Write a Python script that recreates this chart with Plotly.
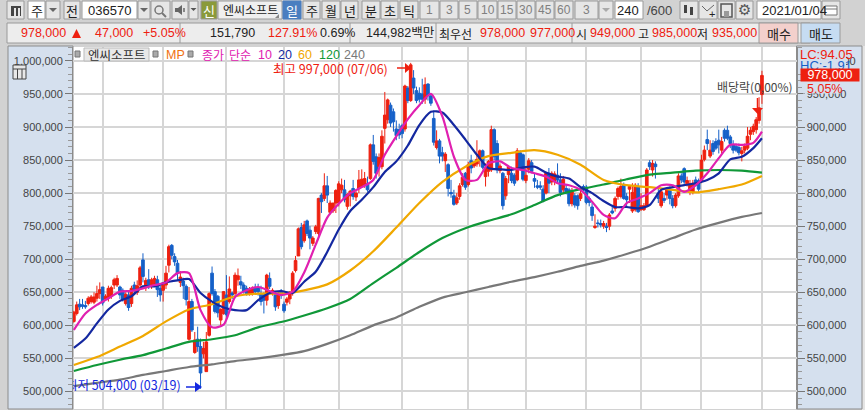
import plotly.graph_objects as go

W, H = 865, 410

# Daily candles for 036570, in thousands of won
opens_k = [
    606,618,632,631,630,633,636,635,641,648, 658,640,641,644,661,661,658,653,633,646,
    633,661,650,661,699,657,669,660,662,669, 656,653,661,691,721,704,694,665,667,659,
    579,636,559,579,568,557,530,585,679,651, 644,608,618,646,636,649,648,669,666,661,
    656,648,648,657,658,648,648,638,671,649, 648,630,652,632,635,640,651,683,705,748,
    728,758,744,724,742,739,797,792,811,771, 773,785,785,805,805,780,796,807,794,807,
    810,812,814,822,873,855,840,840,898,911, 933,923,897,896,902,897,959,940,974,955,
    951,950,942,965,947,913,869,879,861,849, 843,801,796,785,795,813,830,813,849,841,
    844,851,864,825,833,835,896,875,834,830, 796,828,830,827,820,861,858,819,836,846,
    822,811,811,806,800,830,817,817,827,820, 805,807,805,784,796,796,792,810,809,792,
    779,748,755,754,750,750,750,773,777,795, 795,813,795,806,773,775,810,775,775,781,
    846,835,844,800,781,792,797,806,792,781, 796,826,837,814,801,801,820,819,818,851,
    881,856,875,878,880,865,895,895,885,873, 871,869,860,865,868,889,893,896,910,949,
]
highs_k = [
    622,636,640,640,637,644,646,650,660,665, 658,647,660,660,672,676,660,656,650,652,
    660,666,668,690,709,672,685,672,675,675, 660,662,690,722,723,709,699,682,672,662,
    658,640,590,598,580,575,590,650,689,655, 646,626,652,676,674,651,680,686,675,665,
    660,658,659,663,663,660,650,678,680,656, 651,652,655,636,643,652,682,705,748,755,
    758,760,750,735,752,793,800,830,826,789, 785,806,818,822,820,800,805,820,803,835,
    836,832,825,875,888,860,860,895,953,943, 937,928,910,905,905,964,962,997,986,961,
    960,973,975,966,950,925,895,882,870,862, 845,820,805,800,815,830,832,847,858,848,
    880,866,866,845,850,902,898,880,845,832, 826,842,840,830,868,865,860,840,853,850,
    830,820,818,812,832,838,833,833,845,830, 826,812,808,808,800,798,808,813,812,795,
    785,768,760,760,758,755,770,780,795,810, 822,816,800,812,815,815,815,800,785,838,
    850,850,848,808,805,800,808,810,797,800, 830,830,839,825,820,820,825,822,858,872,
    896,880,880,883,896,885,898,902,888,880, 875,875,870,875,900,900,905,915,945,985,
]
lows_k = [
    604,615,623,625,625,630,633,632,636,640, 630,637,636,640,655,658,640,636,630,622,
    628,648,646,655,665,652,655,655,658,643, 636,636,655,680,700,690,668,658,640,630,
    577,590,557,560,504,550,530,583,645,618, 612,600,616,610,633,640,645,660,655,648,
    645,645,645,646,645,630,618,630,655,645, 622,625,640,619,630,632,645,680,712,715,
    725,735,715,720,738,735,770,788,785,768, 770,770,780,800,786,775,780,790,788,800,
    808,808,802,820,843,822,825,836,875,905, 900,893,880,882,883,893,936,938,950,936,
    937,935,935,940,932,872,866,845,848,832, 795,793,781,782,790,810,805,810,830,838,
    840,840,836,810,825,832,850,830,830,775, 790,815,815,811,818,835,818,815,830,830,
    808,806,805,786,798,800,812,812,815,795, 800,798,780,780,778,775,788,803,783,780,
    758,746,748,748,746,741,744,768,772,790, 792,790,778,785,770,772,770,773,773,779,
    835,825,822,785,778,785,790,783,777,778, 793,815,814,810,797,798,810,802,815,848,
    865,853,858,865,860,860,878,880,868,860, 862,857,848,860,865,880,888,890,905,935,
]
closes_k = [
    620,631,628,629,628,641,643,643,648,654, 634,644,656,657,669,671,646,639,647,627,
    656,654,660,687,674,668,660,669,671,654, 646,661,679,719,706,696,679,673,660,639,
    636,593,578,568,528,565,575,648,648,621, 619,624,651,616,655,646,676,675,661,651,
    648,655,656,651,651,636,638,676,659,653, 628,648,645,622,640,648,679,698,746,719,
    752,739,732,732,749,792,787,811,797,785, 785,804,814,812,790,798,803,795,800,820,
    821,822,805,873,848,830,854,886,918,941, 906,908,887,888,890,962,940,994,959,940,
    942,942,964,948,936,877,879,856,856,859, 807,799,783,793,811,824,809,843,838,845,
    851,864,839,838,848,896,855,835,841,781, 822,840,819,815,864,838,821,827,849,833,
    818,809,809,788,830,815,830,829,820,801, 821,802,784,802,782,781,799,806,786,786,
    766,750,754,752,754,748,767,770,792,807, 810,792,790,810,801,812,772,781,781,835,
    840,845,840,792,802,789,806,792,781,797, 826,820,817,819,814,815,812,806,850,865,
    875,865,863,868,873,878,883,883,875,865, 865,861,864,871,886,895,901,911,929,978,
]

# Moving averages, sampled every 4 bars (short) and every 8 bars (long)
short_bars = list(range(0, 240, 4)) + [239]
ma10_k = [593,618,631,641,651,652,656,661,665,679, 679,623,597,601,643,653,658,652,646,651,
          680,722,763,784,800,809,820,858,886,912, 933,950,916,855,820,820,845,848,838,835,
          830,825,815,812,805,787,767,762,785,792, 800,812,812,802,812,830,853,873,873,876, 893]
ma20_k = [566,580,603,624,637,644,659,659,665,668, 670,649,636,627,623,623,638,649,652,649,
          666,681,711,745,773,790,809,832,848,872, 903,923,922,903,881,858,838,836,835,839,
          840,831,825,822,809,800,788,779,779,777, 782,805,809,812,815,820,830,851,855,868, 883]

long_bars = list(range(0, 240, 8)) + [239]
ma60_k = [540,552,568,584,606,624,632,644,648,648, 653,662,683,712,748,785,817,840,856,861,
          865,858,843,820,812,809,805,801,806,813, 826]
ma120_k = [531,540,548,555,565,575,579,585,597,605, 615,626,640,664,687,711,732,747,758,768,
           782,797,806,813,821,828,831,834,835,834, 831]
ma240_k = [508,513,518,525,531,537,541,546,550,555, 561,572,585,600,612,628,642,650,658,666,
           673,681,690,698,708,719,732,745,755,764, 770]

# Month-start bars carrying the vertical grid lines
month_bars = [10, 31, 53, 73, 92, 114, 137, 157, 178, 197, 218, 239]

bars = list(range(len(closes_k)))
won = lambda seq: [v * 1000 for v in seq]

RED, BLUE = "#EE2010", "#1560C8"
LOW_BLUE = "#1428E0"
FONT = "Liberation Sans, Noto Sans CJK KR, sans-serif"
KR = "Noto Sans CJK KR, sans-serif"
PANEL = "#D5E0EE"
CHROME = "#D2D2D2"

px = lambda x: x / W
py = lambda y: 1 - y / H

fig = go.Figure()

fig.add_trace(go.Candlestick(
    x=bars, open=won(opens_k), high=won(highs_k), low=won(lows_k), close=won(closes_k),
    increasing=dict(line=dict(color=RED, width=1), fillcolor=RED),
    decreasing=dict(line=dict(color=BLUE, width=1), fillcolor=BLUE),
    whiskerwidth=0, hoverinfo="skip", showlegend=False,
))
for xs, ys, color in [
    (long_bars, ma240_k, "#787878"),
    (long_bars, ma120_k, "#109838"),
    (long_bars, ma60_k, "#F0A800"),
    (short_bars, ma20_k, "#1428A0"),
    (short_bars, ma10_k, "#E020B0"),
]:
    fig.add_trace(go.Scatter(x=xs, y=won(ys), mode="lines",
                             line=dict(color=color, width=2.2, shape="spline", smoothing=0.7),
                             hoverinfo="skip", showlegend=False))

# The low callout is a text mark so that the plot area clips its left end
fig.add_trace(go.Scatter(x=[37.1], y=[507000], mode="text", cliponaxis=True,
                         text=[f"최저 {min(lows_k) * 1000:,} (03/19)"], textposition="middle left",
                         textfont=dict(family=KR, size=12.5, color=LOW_BLUE),
                         hoverinfo="skip", showlegend=False))

# Keeps the right-hand price axis on the page
fig.add_trace(go.Scatter(x=[bars[-1]], y=[closes_k[-1] * 1000], yaxis="y2", mode="markers",
                         marker=dict(opacity=0, size=1), hoverinfo="skip", showlegend=False))

shapes, notes = [], []


def rect(x0, y0, x1, y1, fill="#E6E6E6", line="#9A9A9A", lw=1, layer="below"):
    shapes.append(dict(type="rect", xref="paper", yref="paper", x0=px(x0), x1=px(x1),
                       y0=py(y1), y1=py(y0), fillcolor=fill, layer=layer,
                       line=dict(color=line, width=lw if line else 0)))


def poly(points, fill, line=None, layer="above"):
    path = "M" + " L".join(f"{px(a):.5f},{py(b):.5f}" for a, b in points) + " Z"
    shapes.append(dict(type="path", xref="paper", yref="paper", path=path, fillcolor=fill,
                       layer=layer, line=dict(color=line or fill, width=1 if line else 0)))


def seg(x0, y0, x1, y1, color, lw=1, layer="above"):
    shapes.append(dict(type="line", xref="paper", yref="paper", x0=px(x0), x1=px(x1),
                       y0=py(y0), y1=py(y1), layer=layer, line=dict(color=color, width=lw)))


def txt(x, y, s, color="#222222", size=12, anchor="left", font=KR):
    notes.append(dict(xref="paper", yref="paper", x=px(x), y=py(y), text=s, showarrow=False,
                      xanchor=anchor, yanchor="middle", align=anchor,
                      font=dict(family=font, size=size, color=color)))


# Window chrome around the chart
rect(0, 0, W, 46, fill=CHROME, line=None)
rect(0, 46, 8, H, fill=CHROME, line=None)
rect(862, 46, W, H, fill="#E4E4E4", line=None)
rect(8, 46, 73, 409, fill=PANEL, line="#8C8C8C")
rect(796.5, 46, 862, 409, fill=PANEL, line="#8C8C8C")

# First toolbar row
rect(7, 1, 24, 19)
rect(11, 6, 21, 16, fill="#444444", line=None)
rect(14, 8, 16, 16, fill="#E6E6E6", line=None)
rect(18, 8, 20, 16, fill="#E6E6E6", line=None)
rect(28, 1, 45, 19, fill="white")
txt(36.5, 10, "주", size=13, anchor="center")
rect(46, 1, 60, 19)
poly([(49, 8), (57, 8), (53, 12)], "#666666")
rect(64, 1, 80, 19)
txt(72, 10, "전", size=13, anchor="center")
rect(82, 1, 137, 19, fill="white")
txt(86, 10, "036570", size=13, font=FONT)
rect(138, 1, 150, 19)
poly([(140, 8), (148, 8), (144, 12)], "#666666")
rect(151, 1, 170, 19)
shapes.append(dict(type="circle", xref="paper", yref="paper", x0=px(155), x1=px(163),
                   y0=py(14), y1=py(6), layer="above", line=dict(color="#777777", width=1.5)))
seg(162, 13, 166, 17, "#777777", 2)
rect(172, 1, 188, 19)
poly([(175, 8), (178, 8), (182, 5), (182, 15), (178, 12), (175, 12)], "#666666")
seg(184, 8, 184, 12, "#666666", 1.5)
rect(189, 1, 198, 19)
poly([(190.5, 8), (196.5, 8), (193.5, 11)], "#555555")
rect(201, 1, 217, 19, fill="#8A9A3A", line="#9A9A9A")
txt(209, 10, "신", color="white", size=13, anchor="center")
rect(218, 1, 282, 19, fill="#EFEFEF")
txt(221, 9.5, "엔씨소프트", size=12)
poly([(279, 18), (279, 14), (275, 18)], "#888888")
rect(283, 1, 301, 19, fill="#4A7EC0", line="#4A7EC0")
txt(292, 10, "일", color="white", size=13, anchor="center")
for x0, x1, label in [(303, 320, "주"), (322, 340, "월"), (341, 358, "년"),
                      (362, 380, "분"), (381, 398, "초"), (400, 418, "틱")]:
    rect(x0, 1, x1, 19)
    txt((x0 + x1) / 2, 10, label, size=13, anchor="center")
for x0, x1, label in [(420, 439, "1"), (440, 458, "3"), (459, 477, "5"), (478, 497, "10"),
                      (498, 516, "15"), (517, 535, "30"), (536, 554, "45"), (555, 573, "60")]:
    rect(x0, 1, x1, 19)
    txt((x0 + x1) / 2, 10, label, color="#808080", size=12, anchor="center", font=FONT)
rect(575, 1, 598, 19)
txt(586, 10, "3", color="#808080", size=12, anchor="center", font=FONT)
rect(599, 1, 613, 19)
poly([(602, 8), (610, 8), (606, 12)], "#AAAAAA")
rect(615, 1, 643, 19, fill="white")
txt(641, 10, "240", size=13, anchor="right", font=FONT)
txt(645, 10, "/600", color="#444444", size=13, font=FONT)

# Chart-style, save and settings buttons
rect(680, 1, 698, 19)
rect(684, 5, 687, 13, fill="#444444", line=None)
rect(690, 7, 693, 15, fill="#444444", line=None)
rect(699, 1, 717, 19)
seg(702, 6, 707, 11, "#666666")
seg(707, 11, 714, 5, "#666666")
txt(712, 14, "+", size=11, anchor="center", font=FONT)
rect(718, 1, 735, 19)
rect(721, 4, 732, 17, fill="#E6E6E6", line="#555555", lw=1.5)
rect(724, 11, 729, 17, fill="#999999", line=None)
rect(736, 1, 753, 19)
txt(744.5, 10, "⚙", color="#555555", size=15, anchor="center", font="DejaVu Sans")
rect(757, 1, 821, 19, fill="white")
txt(760, 10, "2021/01/04", size=13, font=FONT)
rect(822, 1, 840, 19)
rect(825, 6, 837, 15, fill="white", line="#777777")
seg(825, 9, 837, 9, "#777777")

# Quote row
rect(7, 23, 810, 43, fill="#EDEDED")
rect(759, 23, 798, 43, fill="#F3D0CC")
rect(801, 23, 840, 43, fill="#C6DCF2")
for sep in [180, 350, 436, 572]:
    seg(sep, 23, sep, 43, "#9A9A9A", layer="below")
txt(68, 33.5, f"{closes_k[-1] * 1000:,}", color=RED, size=12.5, anchor="right", font=FONT)
poly([(72, 38), (81, 38), (76.5, 29)], RED)
txt(93, 33.5, "47,000", color=RED, size=12.5, font=FONT)
txt(141, 33.5, "+5.05%", color=RED, size=12.5, font=FONT)
txt(208, 33.5, "151,790", size=12.5, font=FONT)
txt(266, 33.5, "127.91%", color=RED, size=12.5, font=FONT)
txt(318, 33.5, "0.69%", size=12.5, font=FONT)
txt(364, 33.5, "144,982백만", size=12.5, font=FONT)
txt(437, 33.5, "최우선", size=12)
txt(478, 33.5, "978,000", color=RED, size=12.5, font=FONT)
txt(528, 33.5, "977,000", color=RED, size=12.5, font=FONT)
txt(574, 33.5, "시", size=12)
txt(588, 33.5, "949,000", color=RED, size=12.5, font=FONT)
txt(636, 33.5, "고", size=12)
txt(650, 33.5, "985,000", color=RED, size=12.5, font=FONT)
txt(695, 33.5, "저", size=12)
txt(710, 33.5, "935,000", color=RED, size=12.5, font=FONT)
txt(778.5, 33.5, "매수", size=13, anchor="center")
txt(820.5, 33.5, "매도", size=13, anchor="center")

# Series legend along the top of the plot
rect(75, 51, 80, 57, fill="#AAAAAA", line="#777777", layer="above")
rect(84, 48, 149, 61, fill="#E8E8E8", line="#BBBBBB", layer="above")
txt(86, 54.5, "엔씨소프트", color="#333333", size=12.5)
rect(153, 51, 158, 57, fill="#AAAAAA", line="#777777", layer="above")
txt(164, 55, "MP", color="#F07010", size=12.5, font=FONT)
rect(188, 51, 193, 57, fill="#AAAAAA", line="#777777", layer="above")
txt(200, 54.5, "종가", color="#E020B0", size=12)
txt(227, 54.5, "단순", color="#E020B0", size=12)
txt(256, 55, "10", color="#E020B0", size=12.5, font=FONT)
txt(276, 55, "20", color="#1428A0", size=12.5, font=FONT)
txt(296, 55, "60", color="#F0A800", size=12.5, font=FONT)
txt(317, 55, "120", color="#109838", size=12.5, font=FONT)
txt(342, 55, "240", color="#787878", size=12.5, font=FONT)

# Small grid icon on the left scale
rect(13, 65, 26, 79, fill="#E8E8E8", line="#444444", layer="above")
seg(13, 69, 26, 69, "#444444")
seg(17.5, 69, 17.5, 79, "#444444")
seg(22, 69, 22, 79, "#444444")

# High and low callouts
txt(390, 68, f"최고 {max(highs_k) * 1000:,} (07/06)", color=RED, size=12.5, anchor="right")
seg(397, 68, 406, 68, RED, 1.5)
poly([(405, 63), (405, 73), (411, 68)], RED)
seg(186, 387, 196, 387, LOW_BLUE, 1.5)
poly([(195, 382), (195, 392), (202, 387)], LOW_BLUE)

# Ex-dividend marker
txt(795, 87, "배당락(0,00%)", color="#444444", size=12, anchor="right")
seg(757.5, 98, 757.5, 108, RED, 1.5)
poly([(752, 108), (763, 108), (757.5, 114)], RED)

# Right scale readouts
rect(798, 48, 846, 70, fill=PANEL, line=None, layer="above")
rect(803, 83, 840, 93.5, fill=PANEL, line=None, layer="above")
txt(797.5, 54, "LC:94.05", color=RED, size=13, font=FONT)
txt(797.5, 65, "HC:-1.91", color=BLUE, size=13, font=FONT)
notes.append(dict(xref="paper", yref="y2", x=px(830), y=closes_k[-1] * 1000,
                  text=f"{closes_k[-1] * 1000:,}", showarrow=False, width=58, height=12,
                  borderpad=0, bgcolor=RED, xanchor="center", yanchor="middle",
                  font=dict(family=FONT, size=12.5, color="white")))
txt(805, 89, "5.05%", color=RED, size=12.5, font=FONT)

price_range = [473500, 1021000]
axis_common = dict(
    range=price_range, tick0=0, dtick=50000, tickformat=",d", ticks="outside", ticklen=7,
    tickcolor="#777777", showline=True, linecolor="#8C8C8C", linewidth=1, fixedrange=True,
    tickfont=dict(family=FONT, size=11, color="#444444"),
    minor=dict(dtick=10000, ticks="outside", ticklen=4, tickcolor="#999999", showgrid=False),
)

fig.update_layout(
    width=W, height=H, margin=dict(l=0, r=0, t=0, b=0),
    paper_bgcolor=CHROME, plot_bgcolor="white", showlegend=False, boxgap=0.08, boxgroupgap=0,
    xaxis=dict(domain=[px(73), px(796.5)], range=[-0.3, 251],
               tickmode="array", tickvals=month_bars, showticklabels=False, ticks="",
               showgrid=True, gridcolor="#D6D6D6", gridwidth=1.5, zeroline=False,
               rangeslider=dict(visible=False), fixedrange=True),
    yaxis=dict(domain=[py(409), py(47)], side="left", showgrid=True, gridcolor="#D6D6D6",
               gridwidth=1.5, zeroline=False, **axis_common),
    yaxis2=dict(domain=[py(409), py(47)], overlaying="y", side="right", showgrid=False,
                zeroline=False, **axis_common),
    shapes=shapes, annotations=notes,
)

fig.write_html("out.html", config=dict(displayModeBar=False))
